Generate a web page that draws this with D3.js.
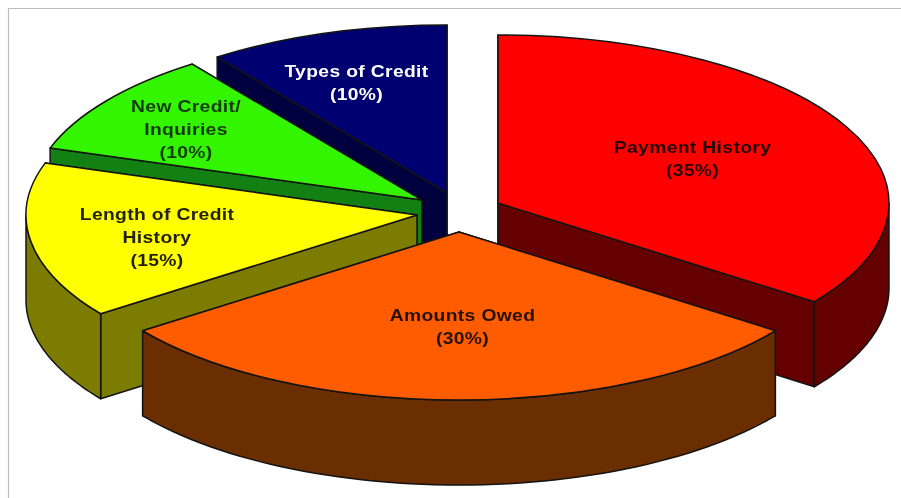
<!DOCTYPE html>
<html>
<head>
<meta charset="utf-8">
<script src="https://cdn.jsdelivr.net/npm/d3@7"></script>
<style>
  html, body { margin: 0; padding: 0; background: #fff; }
  svg { display: block; filter: blur(0.45px); }
  .label { font-family: "Liberation Sans", Arial, sans-serif; font-weight: bold; font-size: 16.5px; letter-spacing: 0.3px; text-anchor: middle; }
</style>
</head>
<body>
<div id="chart"></div>
<script>
// data, clockwise from 12 o'clock
const categories = ['Payment History', 'Amounts Owed', 'Length of Credit History', 'New Credit/Inquiries', 'Types of Credit'];
const shares = [35, 30, 15, 10, 10];
const labelLines = [
  ['Payment History', '(35%)'],
  ['Amounts Owed', '(30%)'],
  ['Length of Credit', 'History', '(15%)'],
  ['New Credit/', 'Inquiries', '(10%)'],
  ['Types of Credit', '(10%)']
];

// styles and layout
const topColors = ['#ff0000', '#ff5c00', '#ffff00', '#33f500', '#000070'];
const wallColors = ['#640000', '#6a2e00', '#7c7c00', '#128012', '#00003e'];
const labelColors = ['#240404', '#241204', '#222208', '#143a0c', '#ffffff'];
const apexes = [[498, 203], [459, 232], [417, 215], [422, 200], [447, 193]];
const labelPos = [[692.5, 148], [462.5, 316], [157, 215], [186, 107], [356.5, 72]];
const lineGap = 22.8;
const textStretch = 1.17;
const rx = 391, ry = 168, depth = 85;
const width = 901, height = 498;

const svg = d3.select('#chart').append('svg')
  .attr('width', width)
  .attr('height', height);

// page frame
svg.append('path')
  .attr('d', d3.line()([[8.5, height], [8.5, 8.5], [width, 8.5]]))
  .attr('fill', 'none')
  .attr('stroke', '#bdbdbd')
  .attr('stroke-width', 1.2);

const pie = d3.pie().sort(null);
const arc = d3.arc().innerRadius(0).outerRadius(rx);
const line = d3.line();
const slices = pie(shares);

// point on the tilted rim, angle clockwise from the top
const rim = (apex, angle, drop = 0) => [
  apex[0] + rx * Math.sin(angle),
  apex[1] - ry * Math.cos(angle) + drop
];

const radialWall = (apex, angle) => line([
  apex, rim(apex, angle), rim(apex, angle, depth), [apex[0], apex[1] + depth]
]) + 'Z';

const outerWall = (apex, a0, a1) => {
  let pts = d3.range(0, 61).map(i => a0 + (a1 - a0) * i / 60);
  let upper = pts.map(a => rim(apex, a));
  let lower = pts.map(a => rim(apex, a, depth)).reverse();
  return line(upper.concat(lower)) + 'Z';
};

const edge = sel => sel
  .attr('stroke', '#141414')
  .attr('stroke-width', 1.5)
  .attr('stroke-linejoin', 'round');

// slices are painted back to front
const paintOrder = [4, 3, 2, 0, 1];
paintOrder.forEach(i => {
  let d = slices[i];
  let apex = apexes[i];
  let g = svg.append('g').attr('class', 'slice');
  let mid = (d.startAngle + d.endAngle) / 2;
  let walls = mid > Math.PI ? [d.endAngle, d.startAngle] : [d.startAngle, d.endAngle];

  walls.forEach(a => {
    g.append('path')
      .attr('d', radialWall(apex, a))
      .attr('fill', wallColors[i])
      .call(edge);
  });

  // only the part of the rim facing the viewer has a wall
  let a0 = Math.max(d.startAngle, Math.PI / 2);
  let a1 = Math.min(d.endAngle, Math.PI * 3 / 2);
  if (a1 > a0) {
    g.append('path')
      .attr('d', outerWall(apex, a0, a1))
      .attr('fill', wallColors[i])
      .call(edge);
  }

  g.append('path')
    .attr('transform', `translate(${apex[0]},${apex[1]}) scale(1,${ry / rx})`)
    .attr('d', arc(d))
    .attr('fill', topColors[i])
    .attr('vector-effect', 'non-scaling-stroke')
    .call(edge);
});

// labels, stretched sideways like the original
labelLines.forEach((lines, i) => {
  svg.append('g')
    .attr('transform', `translate(${labelPos[i][0]},${labelPos[i][1] + 5}) scale(${textStretch},1)`)
    .selectAll('text')
    .data(lines)
    .join('text')
      .attr('class', 'label')
      .attr('fill', labelColors[i])
      .attr('y', (t, k) => k * lineGap)
      .text(t => t);
});
</script>
</body>
</html>
